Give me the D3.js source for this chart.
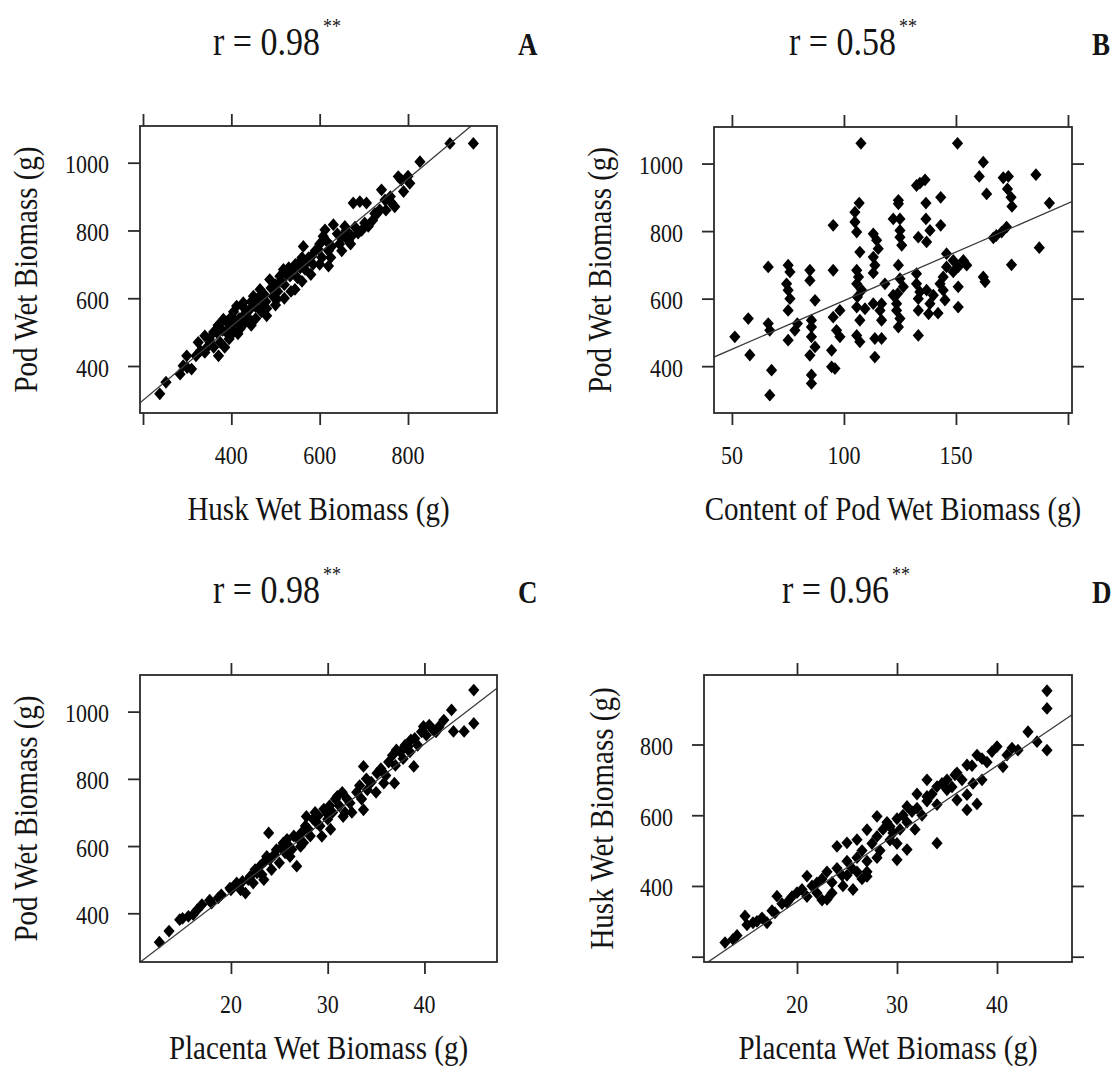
<!DOCTYPE html>
<html><head><meta charset="utf-8">
<script src="https://cdn.jsdelivr.net/npm/d3@7"></script>
<style>body{margin:0;background:#fff}svg{display:block}</style>
</head><body><svg id="c" width="1120" height="1070"></svg>
<script>
// ---------- DATA ----------
// Panel A: [husk wet biomass (g), pod wet biomass (g)]
const podVsHusk = [[238,318],[252,352],[284,376],[291,401],[299,430],[310,391],[300,395],
[340,440],[340,489],[352,469],[371,430],[367,499],[360,455],[350,480],[375,470],[385,455],
[382,538],[389,499],[397,518],[395,480],[405,500],[410,530],[415,495],[420,510],[412,577],
[427,587],[431,528],[442,567],[450,606],[465,626],[480,548],[472,587],[487,655],[503,597],[510,665],
[518,685],[533,665],[544,626],[552,704],[567,685],[563,753],[582,724],[597,744],[608,783],[620,695],
[627,753],[631,817],[612,802],[657,812],[672,783],[687,792],[702,822],[676,881],[691,885],[706,881],
[710,812],[740,920],[748,890],[736,861],[763,881],[778,959],[785,949],[804,939],[827,1003],[895,1057],[948,1057],
[425,545],[435,560],[440,540],[445,590],[455,575],[460,600],[468,560],[475,610],[478,590],[490,630],
[495,605],[500,640],[505,620],[512,650],[520,640],[525,670],[530,690],[538,680],[545,700],[550,660],
[556,690],[560,720],[570,705],[575,720],[585,700],[590,740],[600,760],[605,720],[615,770],[620,740],
[640,790],[645,760],[650,780],[660,800],[665,770],[680,810],[695,800],[720,830],[725,850],[730,850],
[750,860],[760,900],[770,870],[790,915],[800,960],
[390,530],[400,545],[405,560],[418,540],[430,570],[445,520],[455,540],[470,570],[360,500],[370,520],
[380,505],[345,455],[330,445],[320,430],[325,470],
[480,570],[500,580],[520,600],[535,620],[560,650],[580,670],[600,700],[625,720],[650,740],[670,760]];

// Panel B: [content of pod wet biomass (g), pod wet biomass (g)]
const podVsContent = [[107.6,1060],[150.7,1060],[162.2,1004],[160.4,962],[163.7,910],[171.1,958],[173.4,962],
[185.7,967],[173,925],[174.6,900],[175,873],[191.7,883],[187.2,751],[174.8,700],[172.6,812],[170.4,797],
[168,787],[166.7,780],[162.2,664],[163,650],
[133.9,942],[136.2,952],[132.4,935],[124.3,891],[124.3,881],[136.6,883],[143.2,900],[122,836],[125,836],
[136.6,836],[143.2,817],[125,802],[125,782],[125.8,758],[133.2,782],[136.9,768],[138.4,802],
[106.8,883],[104.9,856],[104.9,827],[105.7,797],[107.1,738],[95.2,817],[113.1,792],[114.6,773],[115.3,748],
[113.1,723],[113.8,699],[113.1,676],[105.7,684],[106.5,664],[105.7,644],[108,625],
[124.3,699],[125,659],[126.5,635],[118.3,644],
[145.8,733],[145.8,694],[148.8,713],[153.3,713],[154.8,699],[151,694],[148.8,679],[144.3,664],[142.9,644],
[144.3,625],[145.1,596],[151,635],[151,575],
[132.4,674],[132.4,644],[133.9,620],[133.2,600],[136.9,625],[139.9,610],[138.4,585],[142,557],[137.8,555],
[133.2,565],[133.2,491],
[122,610],[123.5,585],[123.5,565],[125,541],[124.3,516],[116.8,585],[116.1,565],[116.8,536],[113.1,585],
[109.4,570],[105.7,575],[107.1,536],[105.7,491],[107.1,472],[113.8,482],[116.8,482],[113.8,427],
[98.2,565],[95.2,545],[96.7,506],[98.2,487],[94.5,447],[94.5,398],[96,393],[95.2,684],[87.1,595],[84.8,684],
[84.8,654],[85.5,536],[85.5,487],[87.1,457],[84.8,432],[85.5,374],[85.5,349],[85.5,516],
[75.1,699],[75.9,679],[74.4,644],[75.1,625],[75.9,600],[75.1,565],[66.2,694],[79.2,526],[78.1,506],
[75.1,477],[66.2,526],[66.9,506],[67.7,388],[66.9,314],[57.3,541],[51.3,487],[58,433],
[106,605],[124,615]];

// Panel C: [placenta wet biomass (g), pod wet biomass (g)]
const podVsPlacenta = [[12.6,314],[13.6,347],[14.7,381],[15.6,391],[16.1,396],[17,426],[17.8,439],[18.7,446],
[19.9,475],[20.6,490],[21.5,460],[21.8,500],[22.7,520],[23.4,500],[23.7,569],[23.9,639],[24.7,589],[25.4,609],
[26.1,569],[26.8,540],[27.2,599],[27.8,688],[28.9,668],[29.4,629],[29.9,698],[31,748],[31.6,688],[32.3,728],
[33.7,708],[34.1,767],[33.7,837],[35.1,817],[35.8,787],[36.9,787],[37.1,886],[38.3,896],[38.9,837],[38.6,916],
[39.9,956],[40.9,946],[42,975],[42.8,1005],[43,941],[44.1,941],[45.1,965],[45.1,1064],
[15,385],[16.5,410],[18,430],[19,455],[20,470],[20.3,480],[21,470],[21.2,495],[22,510],[22.3,490],
[22.5,530],[23,540],[23.2,515],[23.5,555],[24,560],[24.2,530],[24.5,575],[25,550],[25.2,595],[25.6,580],
[25.8,620],[26,600],[26.3,590],[26.5,630],[27,620],[27.3,640],[27.5,610],[27.7,660],[28,650],[28.2,630],
[28.5,680],[28.7,700],[29,690],[29.2,660],[29.6,710],[30,680],[30.2,720],[30.5,700],[30.8,740],[31.2,720],
[31.5,760],[32,740],[32.5,700],[33,760],[33.3,780],[33.5,740],[34,800],[34.5,790],[35,760],[35.5,830],
[36,810],[36.3,850],[36.7,870],[37,840],[37.5,880],[37.8,860],[38,900],[38.5,880],[39,920],[39.3,900],
[39.7,940],[40.2,930],[40.5,960],[41.2,940],[41.5,955],[30.3,650],[31.8,700]];

// Panel D: [placenta wet biomass (g), husk wet biomass (g)]
const huskVsPlacenta = [[45,952],[45,902],[45,784],[43.1,836],[44,808],[42.1,784],[41,770],[40,794],[40.6,737],
[38,770],[37,742],[35.8,714],[38.5,700],[37.6,690],[37,658],[37,615],[38,632],[36,643],[35,672],[34,681],
[33,653],[34,521],[31,625],[31,503],[30,474],[29.3,568],[28,597],[27,559],[26,531],[25,522],[24,512],
[27,427],[25.6,390],[24.6,400],[23,362],[22,409],[21,428],[20,381],[19,353],[18,371],[17.8,324],[17,296],
[15.6,296],[14.8,315],[13.6,249],[12.8,240],
[14,260],[15,290],[16,300],[16.5,310],[17.5,330],[18.5,350],[19.5,370],[20.5,390],[21,370],[21.5,400],
[22,380],[22.5,420],[23,440],[23.5,410],[24,450],[24.5,430],[25,470],[25.5,450],[26,480],[26.5,500],
[27,470],[27.5,520],[28,540],[28.3,500],[28.6,560],[29,580],[29.3,530],[29.6,550],[30,590],[30.3,560],
[30.6,600],[31,580],[31.5,610],[32,620],[32.5,600],[33,640],[33.5,660],[34,630],[34.5,690],[35,700],
[35.5,680],[36,720],[36.5,700],[37.5,740],[38.5,760],[39,750],[39.5,780],[41.5,790],[26,440],[27,440],
[28,480],[22.5,360],[23.5,380],[25,430],[30,520],[31.8,560],[32,660],[33,700],[26.5,420]];

// fitted regression lines: [intercept, slope]
const fitA = [80.6, 1.09];
const fitB = [306, 2.88];
const fitC = [20, 22.1];
const fitD = [-28, 19.2];

// correlation coefficients and panel letters
const rValues = ["0.98", "0.58", "0.98", "0.96"];
const panelLetters = ["A", "B", "C", "D"];

// axis ticks / labels
const huskTicks = [200, 400, 600, 800];
const huskLabels = [400, 600, 800];
const podTicks = [400, 600, 800, 1000];
const podLabels = [400, 600, 800, 1000];
const contentTicks = [50, 100, 150, 200];
const contentLabels = [50, 100, 150];
const placentaTicks = [20, 30, 40];
const placentaLabels = [20, 30, 40];
const huskYTicks = [200, 400, 600, 800];
const huskYLabels = [400, 600, 800];

// ---------- LAYOUT ----------
const FONT = "'Liberation Serif','Times New Roman',serif";
const SY = 1.15;
const svg = d3.select('#c');

function txt(g, x, y, s, size, anchor, opts = {}) {
  const t = g.append('text')
    .attr('transform', `translate(${x},${y})${opts.rotate ? ` rotate(${opts.rotate})` : ''} scale(1,${SY})`)
    .attr('text-anchor', anchor)
    .attr('font-family', FONT)
    .attr('font-size', size)
    .attr('fill', opts.fill || '#141414')
    .text(s);
  if (opts.bold) t.attr('font-weight', 'bold');
  return t;
}

const diamond = {
  draw(ctx, size) {
    const w = 5.6, h = 6.4;
    ctx.moveTo(0, -h); ctx.lineTo(w, 0); ctx.lineTo(0, h); ctx.lineTo(-w, 0); ctx.closePath();
  }
};

const panels = [
  { data: podVsHusk, box: [140, 126, 497, 413], xd: [193.2, 1001.5], yd: [261.3, 1108.3],
    xt: huskTicks, xl: huskLabels, yt: podTicks, yl: podLabels, right: false, fit: fitA,
    xTitle: 'Husk Wet Biomass (g)', yTitle: 'Pod Wet Biomass (g)', titleX: 213, letterX: 518, titleY: 55,
    xTitleDy: 107, yTitleDx: 103 },
  { data: podVsContent, box: [714, 127, 1072, 413], xd: [42, 201.8], yd: [261.3, 1108.3],
    xt: contentTicks, xl: contentLabels, yt: podTicks, yl: podLabels, right: true, fit: fitB,
    xTitle: 'Content of Pod Wet Biomass (g)', yTitle: 'Pod Wet Biomass (g)', titleX: 789, letterX: 1092, titleY: 55,
    xTitleDy: 107, yTitleDx: 103 },
  { data: podVsPlacenta, box: [140, 675, 497, 962], xd: [10.6, 47.5], yd: [255, 1109],
    xt: placentaTicks, xl: placentaLabels, yt: podTicks, yl: podLabels, right: false, fit: fitC,
    xTitle: 'Placenta Wet Biomass (g)', yTitle: 'Pod Wet Biomass (g)', titleX: 213, letterX: 518, titleY: 603,
    xTitleDy: 97, yTitleDx: 103 },
  { data: huskVsPlacenta, box: [704, 675, 1072, 962], xd: [10.7, 47.5], yd: [185, 996.5],
    xt: placentaTicks, xl: placentaLabels, yt: huskYTicks, yl: huskYLabels, right: true, fit: fitD,
    xTitle: 'Placenta Wet Biomass (g)', yTitle: 'Husk Wet Biomass (g)', titleX: 782, letterX: 1092, titleY: 603,
    xTitleDy: 97, yTitleDx: 91 }
];

const TL = 12;
panels.forEach((p, i) => {
  const [x0, y0, x1, y1] = p.box;
  const x = d3.scaleLinear().domain(p.xd).range([x0, x1]);
  const y = d3.scaleLinear().domain(p.yd).range([y1, y0]);
  const g = svg.append('g');

  const clipId = 'clip' + i;
  svg.append('clipPath').attr('id', clipId).append('rect')
    .attr('x', x0).attr('y', y0).attr('width', x1 - x0).attr('height', y1 - y0);

  const axStyle = a => {
    a.select('.domain').remove();
    a.selectAll('line').attr('stroke', '#2a2a2a').attr('stroke-width', 1.8);
    a.selectAll('text').remove();
  };
  g.append('g').attr('transform', `translate(0,${y1})`)
    .call(d3.axisBottom(x).tickValues(p.xt).tickSizeInner(TL).tickSizeOuter(0)).call(axStyle);
  g.append('g').attr('transform', `translate(0,${y0})`)
    .call(d3.axisTop(x).tickValues(p.xt).tickSizeInner(TL).tickSizeOuter(0)).call(axStyle);
  g.append('g').attr('transform', `translate(${x0},0)`)
    .call(d3.axisLeft(y).tickValues(p.yt).tickSizeInner(TL).tickSizeOuter(0)).call(axStyle);
  if (p.right) {
    g.append('g').attr('transform', `translate(${x1},0)`)
      .call(d3.axisRight(y).tickValues(p.yt).tickSizeInner(TL).tickSizeOuter(0)).call(axStyle);
  }

  p.xl.forEach(v => txt(g, x(v), y1 + 51, String(v), 22, 'middle'));
  p.yl.forEach(v => txt(g, x0 - 31, y(v) + 10.5, String(v), 22, 'end'));

  g.append('g').attr('clip-path', `url(#${clipId})`)
    .selectAll('path').data(p.data).join('path')
    .attr('transform', d => `translate(${x(d[0])},${y(d[1])})`)
    .attr('d', d3.symbol().type(diamond).size(1)())
    .attr('fill', '#000');

  g.append('line').attr('clip-path', `url(#${clipId})`)
    .attr('x1', x(p.xd[0])).attr('y1', y(p.fit[0] + p.fit[1] * p.xd[0]))
    .attr('x2', x(p.xd[1])).attr('y2', y(p.fit[0] + p.fit[1] * p.xd[1]))
    .attr('stroke', '#3a3a3a').attr('stroke-width', 1.3);

  g.append('rect').attr('x', x0).attr('y', y0).attr('width', x1 - x0).attr('height', y1 - y0)
    .attr('fill', 'none').attr('stroke', '#2a2a2a').attr('stroke-width', 1.8);

  txt(g, (x0 + x1) / 2, y1 + p.xTitleDy, p.xTitle, 29, 'middle');
  txt(g, x0 - p.yTitleDx, (y0 + y1) / 2, p.yTitle, 29, 'middle', { rotate: -90 });

  const t = txt(g, p.titleX, p.titleY, 'r = ' + rValues[i], 34, 'start');
  const w = t.node().getComputedTextLength();
  txt(g, p.titleX + w + 3, p.titleY - 22, '**', 18, 'start');
  txt(g, p.letterX, p.titleY, panelLetters[i], 27, 'start', { bold: true });
});
</script>
</body></html>
